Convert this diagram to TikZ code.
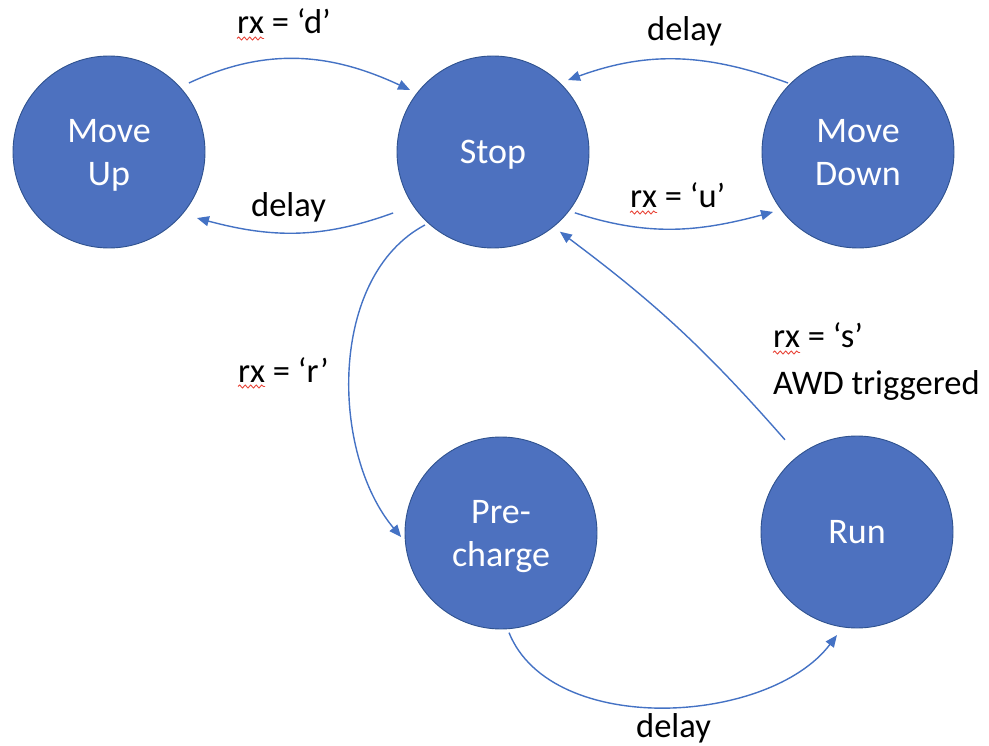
\documentclass[tikz,border=0pt]{standalone}
\usepackage{fontspec}
\setmainfont{Carlito}
\usetikzlibrary{arrows.meta,decorations.pathmorphing}
\definecolor{stfill}{HTML}{4D71BF}
\definecolor{stline}{HTML}{2F528F}
\definecolor{arrc}{HTML}{4472C4}
\definecolor{sqred}{HTML}{E8473B}
\begin{document}
\begin{tikzpicture}[x=1pt,y=1pt,
  state/.style={circle,minimum size=192pt,inner sep=0pt,fill=stfill,draw=stline,line width=0.9pt,
    text=white,align=center,text depth=0pt,font=\fontsize{36}{43}\selectfont},
  arr/.style={draw=arrc,line width=1.4pt,-{Triangle[length=12pt,width=10pt]}},
  lbl/.style={inner sep=0pt,anchor=base west,font=\fontsize{34.5}{40}\selectfont},
  sqg/.style={draw=sqred,line width=0.9pt,decorate,decoration={snake,amplitude=1.5pt,segment length=5.5pt}}]
\useasboundingbox (0,0) rectangle (989,-746);
% states
\node[state] (mu) at (109,-152) {Move\\Up};
\node[state] (st) at (493,-152) {Stop};
\node[state] (md) at (858,-152) {Move\\Down};
\node[state] (pc) at (501,-533) {Pre-\\charge};
\node[state] (run) at (857,-532) {Run};
% transitions
\draw[arr] ([shift={(40.8:105.6)}]mu.center) to[out=25,in=155] ([shift={(143.2:103.6)}]st.center);
\draw[arr] ([shift={(211.4:117)}]st.center) to[out=200,in=-15] ([shift={(323.1:110)}]mu.center);
\draw[arr] ([shift={(135.4:98.3)}]md.center) to[out=160,in=20] ([shift={(43.8:104)}]st.center);
\draw[arr] ([shift={(323.4:102)}]st.center) to[out=-18,in=195] ([shift={(215.2:104)}]md.center);
\draw[arr] ([shift={(227:99.8)}]st.center) to[out=208,in=130,looseness=0.9] ([shift={(182.3:100)}]pc.center);
\draw[arr] ([shift={(274.6:100)}]pc.center) to[out=-68,in=233,looseness=0.88] ([shift={(259:105)}]run.center);
\draw[arr] ([shift={(128:117)}]run.center) to[bend right=6] ([shift={(310:104)}]st.center);
% labels
\node[lbl] (l1) at (237,-34) {rx = ‘d’};
\node[lbl] (l2) at (251,-217) {delay};
\node[lbl] (l3) at (647,-41) {delay};
\node[lbl] (l4) at (630,-208) {rx = ‘u’};
\node[lbl] (l5) at (238,-382) {rx = ‘r’};
\node[lbl] (l6a) at (773,-348) {rx = ‘s’};
\node[lbl] (l6b) at (773,-395) {AWD triggered};
\node[lbl] (l7) at (636,-737) {delay};
% spell-check squiggles
\foreach \n in {l1,l4,l5,l6a}{
  \draw[sqg] ([yshift=-4.5pt]\n.base west) -- ++(27,0);
}
\end{tikzpicture}
\end{document}
